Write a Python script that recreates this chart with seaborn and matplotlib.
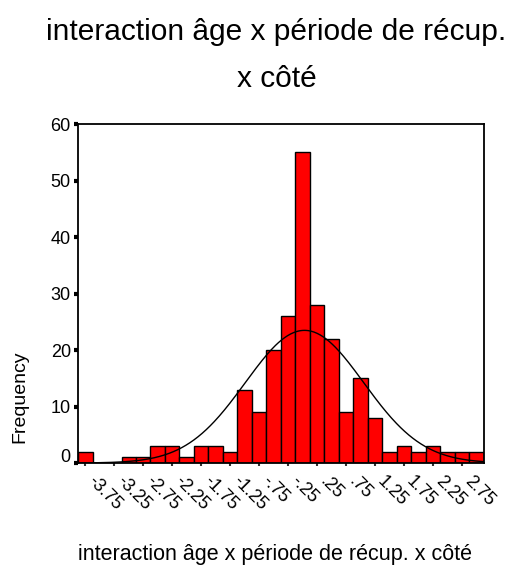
import numpy as np
import pandas as pd
import matplotlib
matplotlib.use("Agg")
import matplotlib.pyplot as plt
import seaborn as sns
import matplotlib.transforms as mtransforms

# ---- data ----
bin_centers = [-3.75, -3.5, -3.25, -3.0, -2.75, -2.5, -2.25, -2.0, -1.75, -1.5,
               -1.25, -1.0, -0.75, -0.5, -0.25, 0.0, 0.25, 0.5, 0.75, 1.0,
               1.25, 1.5, 1.75, 2.0, 2.25, 2.5, 2.75, 3.0]
frequencies = [2, 0, 0, 1, 1, 3, 3, 1, 3, 3,
               2, 13, 9, 20, 26, 55, 28, 22, 9, 15,
               8, 2, 3, 2, 3, 2, 2, 2]
x_tick_values = [-3.75, -3.25, -2.75, -2.25, -1.75, -1.25, -0.75, -0.25,
                 0.25, 0.75, 1.25, 1.75, 2.25, 2.75]
x_tick_labels = ["-3.75", "-3.25", "-2.75", "-2.25", "-1.75", "-1.25", "-.75", "-.25",
                 ".25", ".75", "1.25", "1.75", "2.25", "2.75"]
y_ticks = [0, 10, 20, 30, 40, 50, 60]
title_line1 = "interaction âge x période de récup."
title_line2 = "x côté"
x_label = "interaction âge x période de récup. x côté"
y_label = "Frequency"
bin_width = 0.25

df = pd.DataFrame({"value": bin_centers, "count": frequencies})

sns.set_theme(style="white")
plt.rcParams["font.family"] = ["Liberation Sans", "DejaVu Sans"]
plt.rcParams["text.color"] = "black"
plt.rcParams["xtick.color"] = "black"
plt.rcParams["ytick.color"] = "black"

fig = plt.figure(figsize=(5.16, 5.65), dpi=100)
ax = fig.add_axes([78 / 516, 1 - 463 / 565, (484 - 78) / 516, (463 - 124) / 565])

lo = bin_centers[0] - bin_width / 2
hi = bin_centers[-1] + bin_width / 2
sns.histplot(data=df, x="value", weights="count", binwidth=bin_width, binrange=(lo, hi),
             ax=ax, color="#FF0000", edgecolor="black", linewidth=1.0, alpha=1.0)

# fitted normal curve from the histogram (as SPSS does)
c = np.array(bin_centers)
f = np.array(frequencies)
n = f.sum()
mu = (c * f).sum() / n
sd = np.sqrt(((c - mu) ** 2 * f).sum() / (n - 1))
xs = np.linspace(lo, hi, 400)
ys = n * bin_width * np.exp(-0.5 * ((xs - mu) / sd) ** 2) / (sd * np.sqrt(2 * np.pi))
sns.lineplot(x=xs, y=ys, ax=ax, color="black", linewidth=1.0)

ax.set_xlim(lo, hi)
ax.set_ylim(0, 60)
ax.set_yticks(y_ticks)
ax.set_yticklabels([str(v) for v in y_ticks])
ax.set_xticks(x_tick_values)
ax.set_xticklabels(x_tick_labels, rotation=-45, ha="left", va="top",
                   rotation_mode="anchor")
ax.tick_params(axis="y", direction="out", length=3, width=3, pad=2.2, color="black",
               left=True, labelsize=13, labelcolor="black")
ax.tick_params(axis="x", direction="out", length=2.2, width=1.5, pad=5, color="#333333",
               bottom=True, labelsize=13, labelcolor="black")

# shift the "0" label up a bit like the reference
lbl0 = ax.get_yticklabels()[0]
lbl0.set_transform(lbl0.get_transform() + mtransforms.ScaledTranslation(0, 8 / 100, fig.dpi_scale_trans))
# x tick labels start slightly right of their ticks
for lbl in ax.get_xticklabels():
    lbl.set_transform(lbl.get_transform() + mtransforms.ScaledTranslation(11 / 100, 0, fig.dpi_scale_trans))

for s in ax.spines.values():
    s.set_visible(True)
    s.set_color("black")
    s.set_linewidth(1.3)

ax.set_xlabel("")
ax.set_ylabel("")
ax.grid(False)

fig.text(276 / 516, 1 - 40 / 565, title_line1, ha="center", va="baseline", fontsize=21.5, color="black")
fig.text(277 / 516, 1 - 87 / 565, title_line2, ha="center", va="baseline", fontsize=21.5, color="black")
fig.text(275 / 516, 1 - 560 / 565, x_label, ha="center", va="baseline", fontsize=15.5, color="black")
fig.text(20 / 516, 1 - 397 / 565, y_label, ha="center", va="center", rotation=90, fontsize=14, color="black")

fig.savefig("out.png", dpi=100, facecolor="white")
